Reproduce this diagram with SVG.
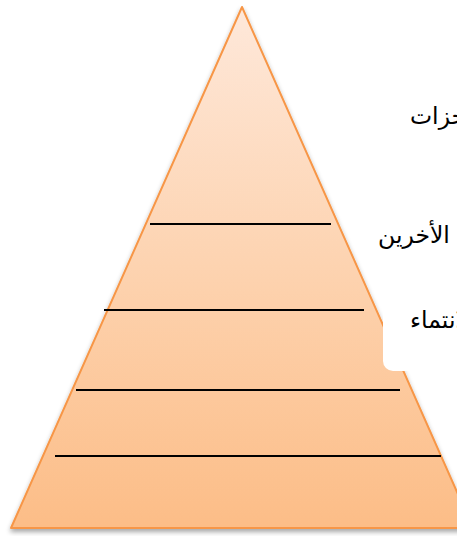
<svg xmlns="http://www.w3.org/2000/svg" width="457" height="536" viewBox="0 0 457 536">
<style>
.lvl{stroke:#000;stroke-width:2;fill:none}
.lbl{font-family:"DejaVu Sans","Liberation Sans",Arial,sans-serif;font-size:23.5px;fill:#000;direction:rtl;unicode-bidi:embed}
</style>
<defs>
<linearGradient id="g" x1="0" y1="0" x2="0" y2="1">
<stop offset="0" stop-color="#fee8da"/>
<stop offset="0.5" stop-color="#fdd3b0"/>
<stop offset="1" stop-color="#fcbd87"/>
</linearGradient>
<filter id="sh" x="-10%" y="-10%" width="120%" height="125%">
<feGaussianBlur in="SourceAlpha" stdDeviation="2.5"/>
<feOffset dx="0" dy="3" result="b"/>
<feComponentTransfer><feFuncA type="linear" slope="0.35"/></feComponentTransfer>
<feMerge><feMergeNode/><feMergeNode in="SourceGraphic"/></feMerge>
</filter>
</defs>
<rect width="457" height="536" fill="#fff"/>
<g id="pyramid">
<polygon points="242,7 473,528 11,528" fill="url(#g)" stroke="#f79646" stroke-width="2" stroke-linejoin="round" filter="url(#sh)"/>
</g>
<g id="levels">
<line class="lvl" x1="150" y1="224" x2="331" y2="224"/>
<line class="lvl" x1="104" y1="310" x2="364" y2="310"/>
<line class="lvl" x1="76" y1="390" x2="400" y2="390"/>
<line class="lvl" x1="55" y1="456" x2="441" y2="456"/>
</g>
<g id="labelbox">
<rect x="383" y="60" width="100" height="311" rx="10" fill="#fff"/>
</g>
<g id="labels">
<text class="lbl" x="410" y="124" text-anchor="end">المنجزات</text>
<text class="lbl" x="378" y="243" text-anchor="end">الأخرين</text>
<text class="lbl" x="410" y="328" text-anchor="end">الانتماء</text>
</g>
</svg>
